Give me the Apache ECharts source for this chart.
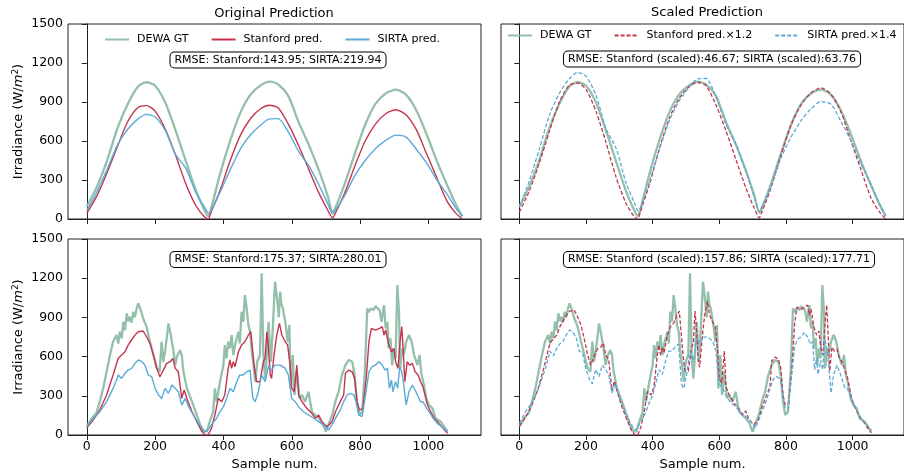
<!DOCTYPE html>
<html>
<head>
<meta charset="utf-8">
<script src="https://cdn.jsdelivr.net/npm/echarts@6/dist/echarts.min.js"></script>
<style>
    html, body {margin: 0; padding: 0; background: #fff;}
    #chart {width: 904px; height: 474px;}
</style>
</head>
<body>
<div id="chart"></div>
<script>
// 晴天样本 [sample, W/m2]
var clearGT = [[0,95],[30,250],[60,455],[90,700],[120,885],[150,1020],[175,1052],[200,1025],[230,895],[260,680],[290,445],[320,215],[345,65],[356,20],
    [362,60],[390,345],[420,605],[450,820],[480,960],[510,1030],[535,1056],[560,1035],[590,945],[620,745],[650,570],[680,370],[705,180],[720,50],
    [726,75],[755,270],[785,505],[815,725],[845,885],[875,965],[905,995],[935,955],[965,835],[995,650],[1025,445],[1055,260],[1080,115],[1099,20]];
var clearStanford = [[0,44],[30,180],[60,360],[90,560],[120,750],[150,858],[175,872],[200,830],[230,690],[260,490],[290,270],[320,100],[345,15],[356,0],
    [362,40],[390,220],[420,450],[450,645],[480,775],[510,850],[535,875],[560,855],[590,730],[620,565],[650,380],[680,197],[705,69],[720,8],
    [726,35],[755,200],[785,410],[815,600],[845,730],[875,810],[905,840],[935,800],[965,685],[995,500],[1025,315],[1055,135],[1080,45],[1099,0]];
var clearSirta = [[0,65],[30,210],[60,385],[90,570],[120,690],[150,770],[175,805],[200,785],[230,680],[260,495],[290,390],[320,200],[345,90],[356,45],
    [362,55],[390,205],[420,380],[450,540],[480,650],[510,725],[535,770],[560,772],[590,670],[620,520],[650,410],[680,260],[705,120],[720,40],
    [726,60],[755,180],[785,335],[815,450],[845,540],[875,605],[905,645],[935,630],[965,535],[995,430],[1025,300],[1055,190],[1080,85],[1099,20]];

// 多云样本
var cloudyGT = [[0,64],[14,128],[28,166],[38,255],[48,357],[58,484],[68,612],[77,714],[87,765],[92,700],[97,790],[102,740],[107,867],[112,800],
    [117,931],[122,870],[126,905],[131,860],[136,943],[141,900],[146,969],[151,1007],[156,969],[161,930],[165,892],[175,829],[185,714],[195,612],
    [205,510],[213,484],[219,714],[224,561],[229,640],[234,740],[239,854],[246,765],[250,700],[254,637],[259,535],[264,600],[268,586],[273,650],
    [278,612],[283,484],[293,357],[308,255],[322,153],[332,77],[342,30],[351,26],[360,102],[370,178],[375,357],[380,255],[390,408],[400,535],
    [404,688],[409,586],[414,714],[419,663],[424,765],[429,612],[434,688],[439,740],[444,790],[448,700],[453,943],[458,867],[463,1071],[468,969],
    [473,841],[478,790],[483,637],[488,535],[493,408],[499,561],[507,612],[512,1237],[517,612],[522,433],[527,612],[532,867],[539,561],[544,790],
    [551,1173],[558,1020],[562,900],[566,1097],[570,1000],[574,969],[581,867],[588,714],[593,841],[597,357],[603,612],[608,306],[615,484],[623,280],
    [630,306],[639,255],[649,331],[659,178],[669,153],[679,128],[688,102],[693,90],[700,25],[706,70],[718,150],[728,260],[738,340],[747,459],
    [757,535],[767,574],[777,561],[784,459],[791,255],[798,153],[806,178],[814,484],[821,969],[826,940],[831,969],[840,956],[845,985],[850,994],
    [857,956],[863,867],[870,994],[875,816],[880,867],[884,663],[889,740],[894,535],[899,663],[904,586],[909,1148],[914,943],[917,510],[924,663],
    [928,612],[935,714],[943,765],[951,714],[958,612],[968,535],[974,612],[980,459],[987,382],[994,280],[1002,230],[1012,204],[1021,128],
    [1036,102],[1046,64],[1056,26]];
var cloudyStanford = [[0,56],[19,115],[38,191],[58,306],[77,459],[92,587],[102,612],[112,637],[121,688],[131,727],[141,765],[151,790],[165,796],
    [175,752],[185,701],[195,612],[205,510],[214,446],[224,497],[234,548],[244,561],[252,586],[259,510],[268,484],[278,280],[285,344],[293,280],
    [308,178],[322,102],[337,26],[347,0],[355,0],[365,51],[375,153],[385,280],[395,255],[404,306],[414,510],[419,574],[424,510],[429,561],
    [434,523],[444,637],[453,688],[463,714],[473,765],[480,790],[486,637],[491,510],[497,408],[507,408],[517,561],[522,586],[527,790],[532,663],
    [537,459],[541,433],[548,612],[556,765],[564,854],[571,765],[581,714],[588,688],[595,535],[600,357],[607,331],[615,535],[620,306],[630,255],
    [644,204],[659,166],[669,128],[679,153],[688,102],[703,64],[718,102],[728,178],[742,255],[752,306],[757,472],[767,497],[777,484],[784,433],
    [791,255],[798,191],[808,204],[818,433],[826,714],[833,816],[845,803],[857,816],[865,829],[870,765],[875,803],[880,740],[884,688],[892,637],
    [899,663],[904,561],[911,510],[917,714],[922,829],[926,663],[931,408],[938,561],[945,535],[953,548],[961,484],[970,459],[977,408],[984,370],
    [990,306],[997,230],[1007,178],[1017,128],[1031,89],[1043,51],[1056,13]];
var cloudySirta = [[0,64],[19,128],[38,178],[58,255],[77,357],[87,421],[92,459],[102,433],[112,472],[121,497],[131,510],[141,548],[151,574],
    [161,561],[170,535],[180,459],[190,446],[200,357],[210,306],[219,280],[229,357],[239,319],[249,382],[259,357],[268,331],[278,229],[288,280],
    [298,217],[312,153],[327,89],[342,38],[351,26],[365,77],[380,128],[390,178],[400,217],[409,280],[419,357],[429,331],[439,408],[448,459],
    [458,459],[468,484],[478,497],[486,280],[493,255],[502,331],[512,459],[522,408],[532,530],[541,497],[551,535],[566,535],[581,510],[590,459],
    [600,280],[610,255],[620,217],[634,178],[649,153],[664,128],[679,102],[693,77],[708,38],[723,102],[728,128],[742,191],[752,255],[762,306],
    [772,319],[782,306],[788,255],[796,153],[806,140],[816,306],[826,484],[835,523],[845,535],[855,561],[865,535],[873,497],[880,510],[886,357],
    [892,421],[896,331],[904,408],[910,357],[916,523],[922,484],[928,382],[935,230],[943,331],[953,382],[961,344],[968,306],[977,255],[984,255],
    [992,217],[1002,178],[1014,128],[1026,89],[1039,64],[1056,26]];

// 图例里标注的缩放系数
var stanfordScale = 1.2;
var sirtaScale = 1.4;

var xTicks = [0, 200, 400, 600, 800, 1000];
var rmseTexts = [
    'RMSE: Stanford:143.95; SIRTA:219.94',
    'RMSE: Stanford (scaled):46.67; SIRTA (scaled):63.76',
    'RMSE: Stanford:175.37; SIRTA:280.01',
    'RMSE: Stanford (scaled):157.86; SIRTA (scaled):177.71'
];

var FONT = 'DejaVu Sans';
var GREEN = '#88b8a2', RED = '#c4354d', BLUE = '#5aabd6', INK = '#222';

function scaled(data, k) {
    return data.map(function (p) { return [p[0], +(p[1] * k).toFixed(1)]; });
}

function plain(v) {
    return String(v);
}

function xAxisFor(grid, showLabel) {
    return {
        type: 'value', gridIndex: grid, min: -55, max: 1154,
        name: showLabel ? 'Sample num.' : '', nameLocation: 'middle', nameGap: 23,
        nameTextStyle: {fontFamily: FONT, fontSize: 13, color: '#000'},
        axisLine: {show: true, onZero: false, lineStyle: {color: INK, width: 1}},
        axisTick: {show: true, length: 5, customValues: xTicks, lineStyle: {color: INK}},
        axisLabel: {show: showLabel, customValues: xTicks, formatter: plain, fontFamily: FONT, fontSize: 12.5, color: '#000', margin: 5},
        splitLine: {show: false}
    };
}

function yAxisFor(grid, showLabel) {
    return {
        type: 'value', gridIndex: grid, min: 0, max: 1500, interval: 300,
        name: showLabel ? '{a|Irradiance (W/}{i|m}{s|2}{a|)}' : '', nameLocation: 'middle', nameGap: 41,
        nameTextStyle: {
            color: '#000',
            rich: {
                a: {fontFamily: FONT, fontSize: 13, color: '#000'},
                i: {fontFamily: FONT, fontSize: 13, fontStyle: 'italic', color: '#000'},
                s: {fontFamily: FONT, fontSize: 9, color: '#000', padding: [0, 0, 7, 0]}
            }
        },
        axisLine: {show: true, lineStyle: {color: INK, width: 1}},
        axisTick: {show: true, length: 5, lineStyle: {color: INK}},
        axisLabel: {show: showLabel, formatter: plain, fontFamily: FONT, fontSize: 12.5, color: '#000', margin: 5},
        splitLine: {show: false}
    };
}

function line(name, grid, data, color, width, dashed, opacity, smooth) {
    return {
        name: name, type: 'line', xAxisIndex: grid, yAxisIndex: grid, data: data,
        showSymbol: false, symbol: 'none', animation: false, smooth: smooth || false,
        lineStyle: {color: color, width: width, type: dashed ? [4, 2] : 'solid', opacity: opacity || 1},
        itemStyle: {color: color}
    };
}

function box(text, x, y) {
    return {
        type: 'text', x: x, y: y,
        style: {
            text: text, fontFamily: FONT, fontSize: 11, fill: '#000', align: 'center', verticalAlign: 'middle',
            backgroundColor: '#fff', borderColor: '#000', borderWidth: 1, borderRadius: 4, padding: [2, 4, 2, 4]
        }
    };
}

function heading(text, x, y) {
    return {type: 'text', x: x, y: y, style: {text: text, fontFamily: FONT, fontSize: 13, fill: '#000', align: 'center', verticalAlign: 'middle'}};
}

function legendFor(names, left, top) {
    return {
        data: names, left: left, top: top, width: 460,
        itemWidth: 24, itemHeight: 12, itemGap: 22,
        itemStyle: {opacity: 0},
        textStyle: {fontFamily: FONT, fontSize: 11, color: '#000', padding: [0, 0, 0, 3]}
    };
}

var chart = echarts.init(document.getElementById('chart'));
var gridBase = {show: true, borderColor: INK, borderWidth: 1, backgroundColor: 'transparent'};
var option = {
    animation: false,
    grid: [
        Object.assign({left: 68, top: 24, width: 413, height: 195}, gridBase),
        Object.assign({left: 501, top: 24, width: 413, height: 195}, gridBase),
        Object.assign({left: 68, top: 239, width: 413, height: 196}, gridBase),
        Object.assign({left: 501, top: 239, width: 413, height: 196}, gridBase)
    ],
    xAxis: [xAxisFor(0, false), xAxisFor(1, false), xAxisFor(2, true), xAxisFor(3, true)],
    yAxis: [yAxisFor(0, true), yAxisFor(1, false), yAxisFor(2, true), yAxisFor(3, false)],
    legend: [
        legendFor(['DEWA GT', 'Stanford pred.', 'SIRTA pred.'], 99, 29),
        legendFor(['DEWA GT', 'Stanford pred.×1.2', 'SIRTA pred.×1.4'], 502, 25)
    ],
    graphic: [
        heading('Original Prediction', 274, 14),
        heading('Scaled Prediction', 707, 13),
        box(rmseTexts[0], 278, 60),
        box(rmseTexts[1], 712, 59),
        box(rmseTexts[2], 278, 259.5),
        box(rmseTexts[3], 719, 259.5)
    ],
    series: [
        // 原始预测
        line('DEWA GT', 0, clearGT, GREEN, 2.3, false, 0.9, 0.25),
        line('Stanford pred.', 0, clearStanford, RED, 1.4, false, 1, 0.25),
        line('SIRTA pred.', 0, clearSirta, BLUE, 1.4, false, 1, 0.25),
        line('DEWA GT', 2, cloudyGT, GREEN, 2.3, false, 0.9),
        line('Stanford pred.', 2, cloudyStanford, RED, 1.4),
        line('SIRTA pred.', 2, cloudySirta, BLUE, 1.4),
        // 缩放后的预测
        line('DEWA GT', 1, clearGT, GREEN, 2.3, false, 0.9, 0.25),
        line('Stanford pred.×1.2', 1, scaled(clearStanford, stanfordScale), RED, 1.3, true, 1, 0.25),
        line('SIRTA pred.×1.4', 1, scaled(clearSirta, sirtaScale), BLUE, 1.3, true, 1, 0.25),
        line('DEWA GT', 3, cloudyGT, GREEN, 2.3, false, 0.9),
        line('Stanford pred.×1.2', 3, scaled(cloudyStanford, stanfordScale), RED, 1.3, true),
        line('SIRTA pred.×1.4', 3, scaled(cloudySirta, sirtaScale), BLUE, 1.3, true)
    ]
};
chart.setOption(option);
</script>
</body>
</html>
